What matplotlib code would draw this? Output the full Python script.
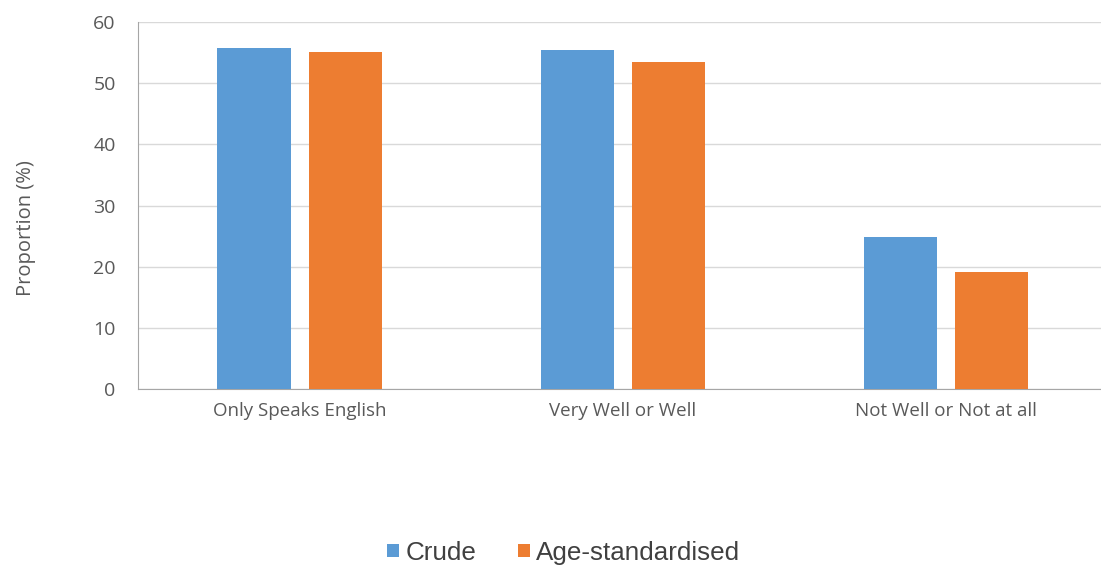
import numpy as np
import matplotlib
matplotlib.use("Agg")
import matplotlib.pyplot as plt

# data
categories = ["Only Speaks English", "Very Well or Well", "Not Well or Not at all"]
crude = [55.8, 55.4, 24.8]
age_std = [55.1, 53.5, 19.2]
yticks = [0, 10, 20, 30, 40, 50, 60]

blue = "#5B9BD5"
orange = "#ED7D31"
grey = "#595959"

fig = plt.figure(figsize=(11.01, 5.72), dpi=100)
# plot area runs a little past the right edge, like the gridlines in the original
ax = fig.add_axes([0.1253, 0.3199, 0.881, 0.6416])

x = np.arange(len(categories))
w = 0.226
off = 0.141
b1 = ax.bar(x - off, crude, w, color=blue, label="Crude", zorder=3)
b2 = ax.bar(x + off, age_std, w, color=orange, label="Age-standardised", zorder=3)

ax.set_xlim(-0.5, 2.5)
ax.set_ylim(0, 60)
ax.set_yticks(yticks)
ax.set_xticks(x)
ax.set_xticklabels(categories, fontsize=13.5, color=grey, family="Open Sans")
for lab in ax.get_yticklabels():
    lab.set_fontsize(14)
    lab.set_color(grey)
    lab.set_family("Open Sans")
ax.tick_params(axis="both", length=0)
ax.tick_params(axis="y", pad=16)
ax.tick_params(axis="x", pad=9)

ax.grid(axis="y", color="#D9D9D9", linewidth=1, zorder=0)
for s in ["top", "right"]:
    ax.spines[s].set_visible(False)
ax.spines["left"].set_color("#A6A6A6")
ax.spines["bottom"].set_color("#A6A6A6")

fig.text(0.024, 0.601, "Proportion (%)", rotation=90, va="center", ha="center",
         fontsize=14.5, color=grey, family="Open Sans")

fig.legend(handles=[b1, b2], loc="center", bbox_to_anchor=(0.512, 0.033), ncol=2,
           frameon=False, handlelength=0.45, handleheight=0.4, handletextpad=0.25,
           columnspacing=1.6, prop={"family": "Liberation Sans", "size": 18.7},
           labelcolor="#404040")

fig.savefig("out.png", dpi=100)
